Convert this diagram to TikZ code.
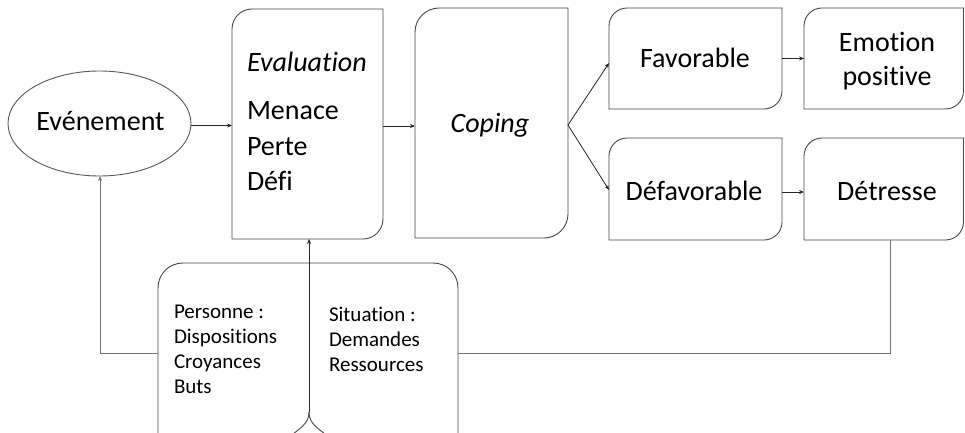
\documentclass[tikz,border=0pt]{standalone}
\usepackage{fontspec}
\setmainfont{Carlito}[Ligatures={NoCommon}]
\usetikzlibrary{arrows.meta,shapes.geometric}
\tikzset{
  frame/.style={rectangle, draw=none, inner sep=0pt, outer sep=0pt},
  boxline/.style={draw=black!72, line width=0.9pt},
  fb/.style={draw=black!55, line width=1pt},
  arr/.style={-{Stealth[length=5pt,width=4pt]}, draw=black!85, line width=0.8pt},
  big/.style={font=\fontsize{28}{33}\selectfont, inner sep=0pt, outer sep=0pt, anchor=base},
  bigw/.style={big, anchor=base west},
  small/.style={font=\fontsize{21}{25}\selectfont, inner sep=0pt, outer sep=0pt, anchor=base west},
}
\newcommand\tlbrbox[2]{%
  \draw[boxline] (#1.north east) -- ([yshift=#2]#1.south east)
    .. controls ([yshift=0.45*#2]#1.south east) and ([xshift=-0.45*#2]#1.south east) .. ([xshift=-#2]#1.south east)
    -- (#1.south west) -- ([yshift=-#2]#1.north west)
    .. controls ([yshift=-0.45*#2]#1.north west) and ([xshift=0.45*#2]#1.north west) .. ([xshift=#2]#1.north west)
    -- cycle;}
\begin{document}
\begin{tikzpicture}[x=1pt, y=-1pt]
\clip (0,0) rectangle (965,433);
\fill[white] (0,0) rectangle (965,433);
% nodes
\node[ellipse, boxline, draw=black!65, minimum width=183pt, minimum height=105pt, inner sep=0pt, outer sep=0pt] (ev) at (99.5,123.5) {};
\node[frame, minimum width=151pt, minimum height=230pt] (eval) at (307.5,124) {};
\node[frame, minimum width=153pt, minimum height=230pt] (cop) at (491.5,123) {};
\node[frame, minimum width=173pt, minimum height=101pt] (fav) at (695.5,58.5) {};
\node[frame, minimum width=159.5pt, minimum height=101pt] (emo) at (883.75,58.5) {};
\node[frame, minimum width=173pt, minimum height=102pt] (defav) at (695.5,189) {};
\node[frame, minimum width=159.5pt, minimum height=102pt] (detr) at (883.75,189) {};
\node[frame, minimum width=300pt, minimum height=200pt] (ctx) at (308,363) {};
% shapes
\tlbrbox{eval}{20pt}
\tlbrbox{cop}{24pt}
\tlbrbox{fav}{18pt}
\tlbrbox{emo}{18pt}
\tlbrbox{defav}{18pt}
\tlbrbox{detr}{18pt}
\draw[boxline] (ctx.south west) -- ([yshift=-25pt]ctx.north west)
  .. controls ([yshift=-11pt]ctx.north west) and ([xshift=11pt]ctx.north west) .. ([xshift=25pt]ctx.north west)
  -- ([xshift=-25pt]ctx.north east)
  .. controls ([xshift=-11pt]ctx.north east) and ([yshift=-11pt]ctx.north east) .. ([yshift=-25pt]ctx.north east)
  -- (ctx.south east);
% labels
\node[big] (lev) at (100.5,130) {Evénement};
\node[bigw] (le1) at (247,72) {\textit{Evaluation}};
\node[bigw] (le2) at (247,120) {Menace};
\node[bigw] (le3) at (247,155) {Perte};
\node[bigw] (le4) at (247,190) {Défi};
\node[big] (lcop) at (490,132) {\textit{Coping}};
\node[big] (lfav) at (695,68) {Favorable};
\node[big] (lemo1) at (887,52) {Emotion};
\node[big] (lemo2) at (887,86) {positive};
\node[big] (ldef) at (694,200) {Défavorable};
\node[big] (ldet) at (887,200) {Détresse};
\node[small] (p1) at (174,318) {Personne :};
\node[small] (p2) at (174,343) {Dispositions};
\node[small] (p3) at (174,368) {Croyances};
\node[small] (p4) at (174,393) {Buts};
\node[small] (s1) at (329,321) {Situation :};
\node[small] (s2) at (329,346) {Demandes};
\node[small] (s3) at (329,371) {Ressources};
% connectors
\draw[arr] ([yshift=-2pt]ev.east) -- ([yshift=-2pt]ev.east -| eval.west);
\draw[arr] ([yshift=-2pt]eval.east) -- ([yshift=-3pt]cop.west);
\draw[arr] ([yshift=-2pt]cop.east) -- ([yshift=-4.5pt]fav.west);
\draw[arr] ([yshift=-2pt]cop.east) -- ([yshift=-1pt]defav.west);
\draw[arr] (fav.east) -- (emo.west);
\draw[arr] ([yshift=-3pt]defav.east) -- ([yshift=-3pt]detr.west);
% feedback
\coordinate (fbR) at (890,353);
\coordinate (fbL) at (100,353);
\draw[fb] (detr.south -| fbR) -- (fbR) -- (ctx.east |- fbR);
\draw[fb] (ctx.west |- fbL) -- (fbL);
\draw[arr, draw=black!55, line width=1pt] (fbL) -- (ev.south -| fbL);
% central arrow with brace
\coordinate (br) at (309,412);
\draw[arr] (br) -- (eval.south -| br);
\draw[boxline] (br) .. controls (309,424) and (300,428) .. (288,438);
\draw[boxline] (br) .. controls (309,424) and (318,428) .. (330,438);
\end{tikzpicture}
\end{document}
